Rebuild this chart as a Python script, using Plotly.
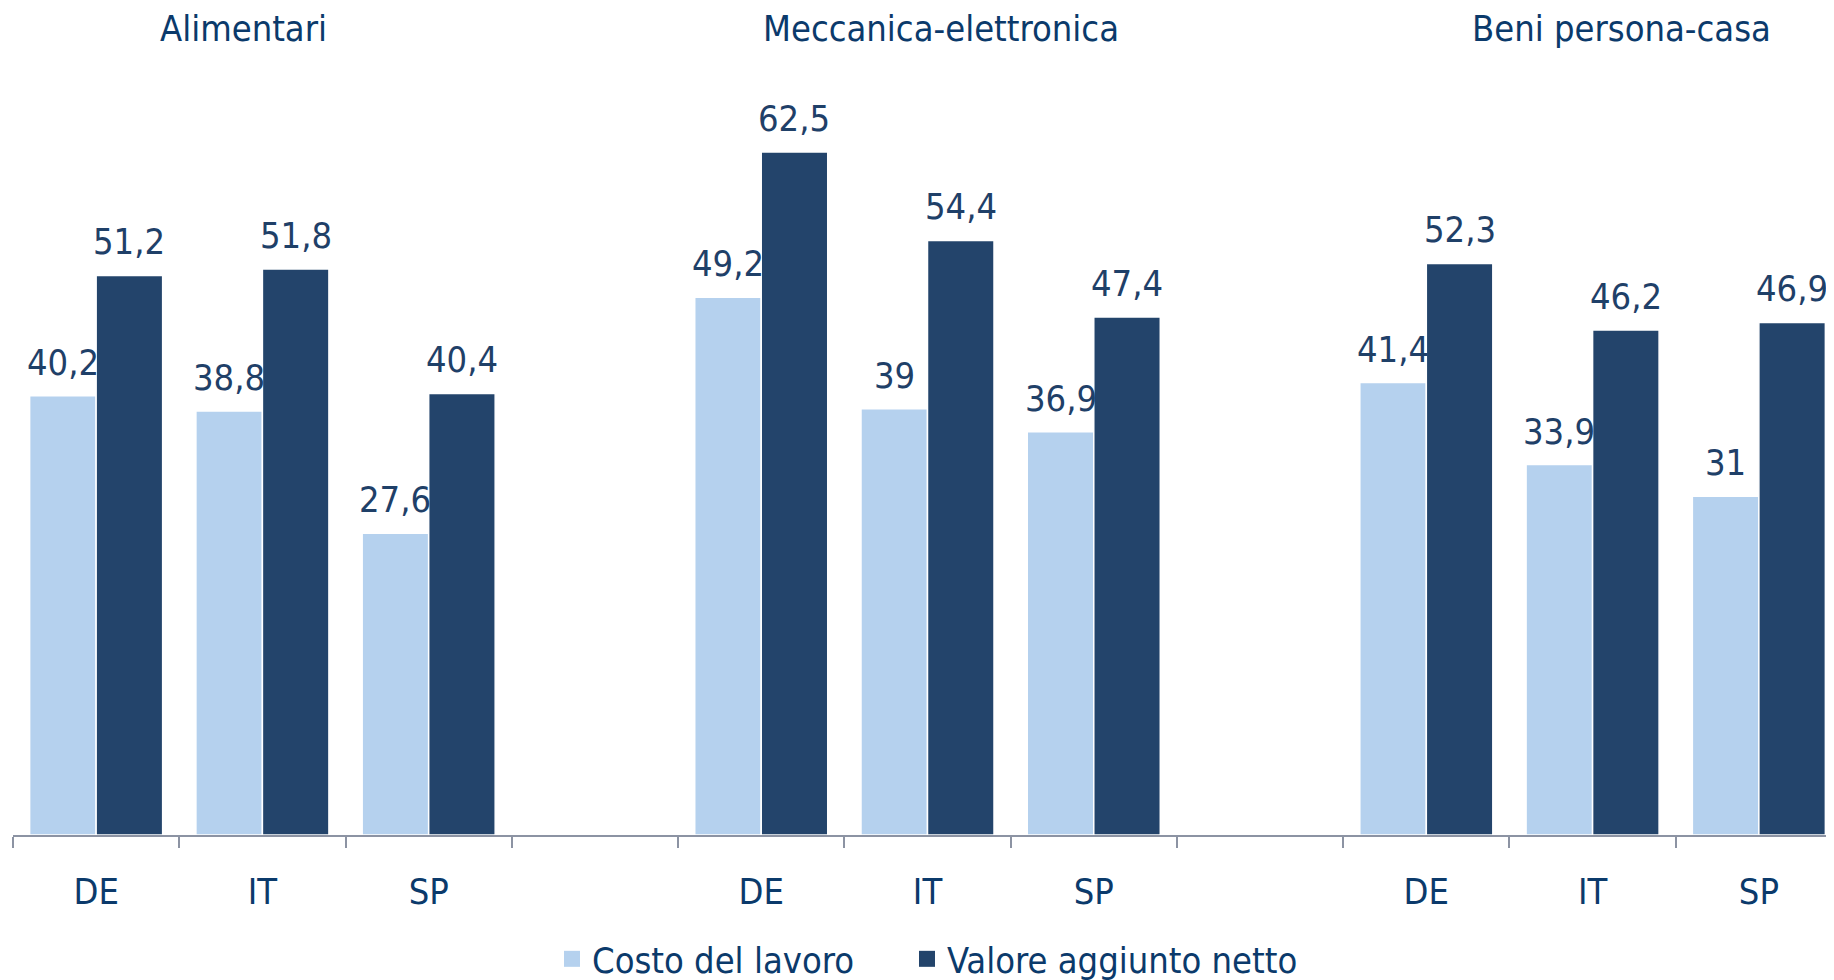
import plotly.graph_objects as go

# settori e paesi
gruppi = ["Alimentari", "Meccanica-elettronica", "Beni persona-casa"]
paesi = ["DE", "IT", "SP"]

costo_lavoro = [40.2, 38.8, 27.6, 49.2, 39, 36.9, 41.4, 33.9, 31]
valore_aggiunto = [51.2, 51.8, 40.4, 62.5, 54.4, 47.4, 52.3, 46.2, 46.9]

COL_LIGHT = "#B5D1EE"
COL_DARK = "#23446B"
COL_TEXT = "#1F4068"
COL_AXIS = "#0B3A6B"
FONT = "DejaVu Sans Condensed, Open Sans, sans-serif"

# the page body has an 8px margin; the plot runs slightly past the right edge like the original
W, H = 1834, 972
M_L, M_R, M_T, M_B = 5, 0, 62, 145
BARGAP = 0.2


def fmt(v):
    return f"{v:g}".replace(".", ",")


# build category slots with an empty slot between groups
cat_ids, cat_text = [], []
x_bars = []
for g_idx, g in enumerate(gruppi):
    for p in paesi:
        cid = f"{g_idx}_{p}"
        cat_ids.append(cid)
        cat_text.append(p)
        x_bars.append(cid)
    if g_idx < len(gruppi) - 1:
        cat_ids.append(f"{g_idx}_gap")
        cat_text.append("")

slot_px = (W - M_L - M_R) / len(cat_ids)
half_bar_px = slot_px * (1 - BARGAP) / 4  # offset of each bar centre from slot centre

fig = go.Figure()

series = [
    ("Costo del lavoro", costo_lavoro, COL_LIGHT, -half_bar_px, "legend"),
    ("Valore aggiunto netto", valore_aggiunto, COL_DARK, half_bar_px, "legend2"),
]
for name, vals, col, shift, leg in series:
    fig.add_trace(
        go.Bar(
            x=x_bars,
            y=vals,
            name=name,
            marker_color=col,
            marker_line_color="white",
            marker_line_width=1.5,
            showlegend=False,
            hoverinfo="skip",
        )
    )
    # legend entry with a bigger square
    fig.add_trace(
        go.Scatter(
            x=[None],
            y=[None],
            mode="markers",
            name=name,
            marker=dict(symbol="square", size=18, color=col),
            showlegend=True,
            legend=leg,
        )
    )
    # value labels above bars
    for xc, v in zip(x_bars, vals):
        fig.add_annotation(
            x=xc,
            y=v,
            text=fmt(v),
            showarrow=False,
            xshift=shift,
            yshift=11,
            yanchor="bottom",
            font=dict(size=36, color=COL_TEXT, family=FONT),
        )

title_x = [0.1258, 0.5074, 0.8797]
for g, tx in zip(gruppi, title_x):
    fig.add_annotation(
        x=tx,
        y=1,
        yshift=42,
        xref="paper",
        yref="paper",
        text=g,
        showarrow=False,
        font=dict(size=36, color=COL_AXIS, family=FONT),
        xanchor="center",
        yanchor="middle",
    )

legend_style = dict(
    orientation="h",
    xanchor="left",
    y=-0.162,
    yanchor="middle",
    font=dict(size=36, color=COL_AXIS, family=FONT),
    bgcolor="rgba(0,0,0,0)",
)

fig.update_layout(
    width=W,
    height=H,
    template=None,
    paper_bgcolor="white",
    plot_bgcolor="white",
    margin=dict(l=M_L, r=M_R, t=M_T, b=M_B, autoexpand=False),
    barmode="group",
    bargap=BARGAP,
    bargroupgap=0,
    font=dict(family=FONT, color=COL_AXIS),
    legend=dict(x=0.2947, **legend_style),
    legend2=dict(x=0.4888, **legend_style),
)

fig.update_xaxes(
    type="category",
    categoryorder="array",
    categoryarray=cat_ids,
    tickmode="array",
    tickvals=cat_ids,
    ticktext=cat_text,
    tickson="boundaries",
    ticks="outside",
    ticklen=11,
    tickwidth=2,
    tickcolor="#8C93A3",
    showline=True,
    linecolor="#8C93A3",
    linewidth=2,
    showgrid=False,
    zeroline=False,
    automargin=False,
    tickfont=dict(size=36, color=COL_AXIS, family=FONT),
    ticklabelstandoff=24,
)
fig.update_yaxes(
    range=[0, 70],
    showticklabels=False,
    showgrid=False,
    zeroline=False,
    showline=False,
    ticks="",
    automargin=False,
)

fig.write_html("out.html")
